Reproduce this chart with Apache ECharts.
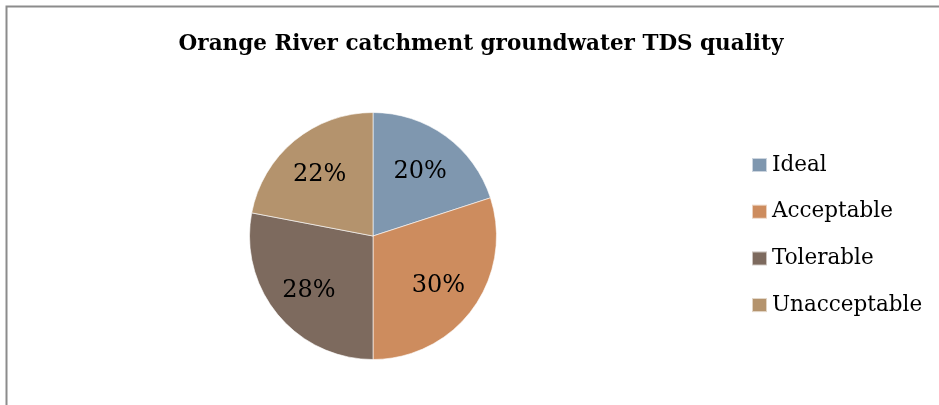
<!DOCTYPE html>
<html>
<head>
<meta charset="utf-8">
<style>
  html, body { margin: 0; padding: 0; background: #fff; }
  #chart { width: 939px; height: 405px; }
</style>
<script src="https://cdn.jsdelivr.net/npm/echarts@6/dist/echarts.min.js"></script>
</head>
<body>
<div id="chart"></div>
<script>
// TDS quality classes and their share of sampled boreholes (%)
const categories = ['Ideal', 'Acceptable', 'Tolerable', 'Unacceptable'];
const shares = [20, 30, 28, 22];
const palette = ['#7F97AF', '#CD8C5E', '#7D6A5E', '#B4936D'];

const pieData = categories.map((name, i) => ({ name, value: shares[i] }));

const chart = echarts.init(document.getElementById('chart'));
chart.setOption({
  animation: false,
  color: palette,
  title: {
    text: 'Orange River catchment groundwater TDS quality',
    left: 476,
    top: 28,
    textAlign: 'center',
    textStyle: { fontFamily: 'DejaVu Serif', fontWeight: 'bold', fontSize: 21.5, color: '#000' }
  },
  legend: {
    orient: 'vertical',
    left: 746,
    top: 149,
    itemWidth: 15,
    itemHeight: 14,
    itemGap: 24.7,
    icon: 'rect',
    selectedMode: false,
    textStyle: { fontFamily: 'DejaVu Serif', fontSize: 21.5, color: '#000' },
    data: categories
  },
  graphic: [{
    type: 'rect',
    shape: { x: 6.5, y: 6.5, width: 1000, height: 500 },
    style: { fill: 'none', stroke: '#8c8c8c', lineWidth: 2 },
    silent: true
  }],
  series: [
    {
      type: 'pie',
      center: [373, 236],
      radius: [0, 123.5],
      startAngle: 90,
      clockwise: true,
      label: { show: false },
      labelLine: { show: false },
      itemStyle: { borderColor: 'rgba(255,255,255,0.6)', borderWidth: 1 },
      emphasis: { disabled: true },
      data: pieData
    },
    {
      // transparent ring used only to place the percentage labels further out
      type: 'pie',
      center: [372, 238],
      radius: [0, 158],
      startAngle: 90,
      clockwise: true,
      silent: true,
      itemStyle: { color: 'rgba(0,0,0,0)' },
      label: {
        show: true,
        position: 'inside',
        formatter: p => p.value + '%',
        fontFamily: 'DejaVu Serif',
        fontSize: 24,
        color: '#000'
      },
      labelLine: { show: false },
      emphasis: { disabled: true },
      data: pieData
    }
  ]
});
</script>
</body>
</html>
